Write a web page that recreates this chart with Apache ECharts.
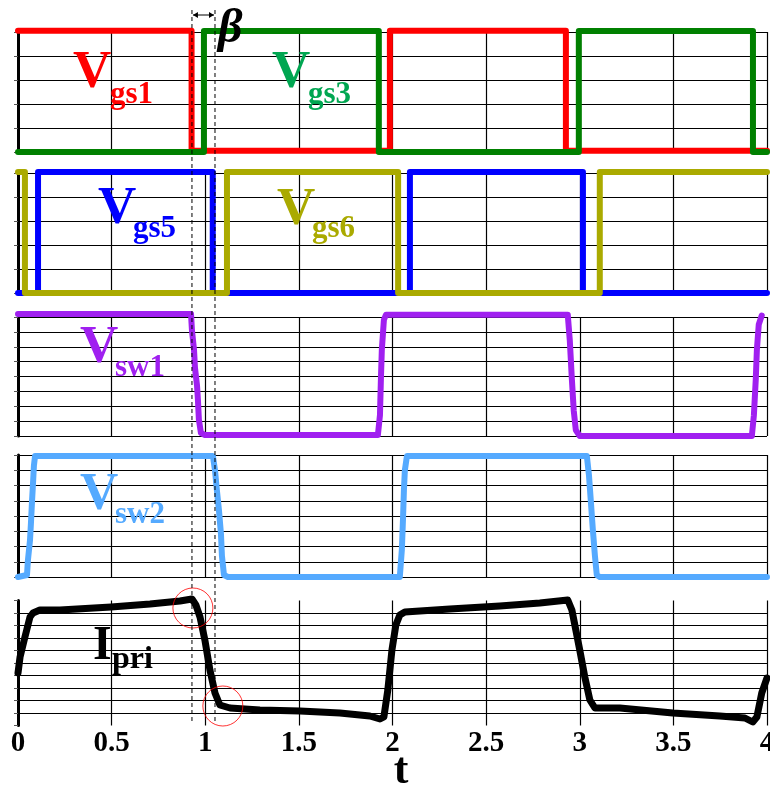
<!DOCTYPE html>
<html>
<head>
<meta charset="utf-8">
<style>
  html, body { margin: 0; padding: 0; background: #fff; }
  #main { width: 770px; height: 792px; }
</style>
<script src="https://cdn.jsdelivr.net/npm/echarts/dist/echarts.min.js"></script>
</head>
<body>
<div id="main"></div>
<script>
// time axis ticks
var xTicks = [0, 0.5, 1, 1.5, 2, 2.5, 3, 3.5, 4];

// gate signals (time, level)
var vgs1T = [0, 0.927, 0.927, 1.986, 1.986, 2.926, 2.926, 4];
var vgs1V = [5.05, 5.05, 0.05, 0.05, 5.05, 5.05, 0.05, 0.05];
var vgs3T = [0, 0.993, 0.993, 1.927, 1.927, 2.995, 2.995, 3.925, 3.925, 4];
var vgs3V = [0, 0, 5.04, 5.04, 0, 0, 5.04, 5.04, 0, 0];
var vgs5T = [0, 0.107, 0.107, 1.04, 1.04, 2.093, 2.093, 3.017, 3.017, 4];
var vgs5V = [0, 0, 5.04, 5.04, 0, 0, 5.04, 5.04, 0, 0];
var vgs6T = [0, 0.037, 0.037, 1.116, 1.116, 2.03, 2.03, 3.107, 3.107, 4];
var vgs6V = [5.04, 5.04, 0, 0, 5.04, 5.04, 0, 0, 5.04, 5.04];

// switch node voltages
var vsw1T = [0, 0.924, 0.929, 0.940, 0.945, 0.956, 0.961, 0.966, 0.977, 0.998,
             1.922, 1.933, 1.938, 1.943, 1.954, 1.965,
             2.936, 2.947, 2.958, 2.968, 2.979, 3.0,
             3.919, 3.930, 3.940, 3.946, 3.956, 3.972];
var vsw1V = [8.2, 8.2, 7.1, 5.8, 4.6, 3.4, 2.4, 1.1, 0.2, 0.07,
             0.07, 1.4, 3.8, 5.8, 7.8, 8.15,
             8.15, 6.4, 3.8, 1.7, 0.4, 0.0,
             0.0, 1.4, 3.8, 5.8, 7.5, 8.1];
var vsw2T = [0, 0.048, 0.053, 0.064, 0.069, 0.075, 0.080, 0.085, 0.091,
             1.041, 1.052, 1.062, 1.073, 1.084, 1.089, 1.10, 1.121,
             2.039, 2.050, 2.056, 2.061, 2.066, 2.077,
             3.038, 3.049, 3.059, 3.070, 3.081, 3.091, 3.107, 4];
var vsw2V = [0, 0.13, 1.1, 2.4, 3.5, 5.0, 6.1, 7.3, 7.93,
             7.93, 7.0, 5.7, 4.4, 2.8, 1.4, 0.13, 0,
             0, 1.8, 3.8, 5.7, 7.0, 7.93,
             7.93, 6.7, 5.0, 3.1, 1.4, 0.13, 0, 0];

// primary current
var ipriT = [0, 0.011, 0.037, 0.064, 0.080, 0.117, 0.224, 0.497, 0.705, 0.865,
             0.929, 0.950, 0.972, 0.998, 1.025, 1.052, 1.078, 1.132, 1.292, 1.506,
             1.719, 1.879, 1.933, 1.954, 1.975, 1.997, 2.018, 2.039, 2.066, 2.306,
             2.573, 2.787, 2.936, 2.958, 2.979, 3.0, 3.027, 3.054, 3.081, 3.214,
             3.497, 3.748, 3.882, 3.924, 3.946, 3.972, 4.0];
var ipriV = [3.2, 4.48, 6.08, 7.68, 8.0, 8.24, 8.24, 8.48, 8.72, 8.96,
             9.12, 8.64, 7.68, 5.84, 3.44, 1.6, 0.64, 0.4, 0.24, 0.16,
             0, -0.24, -0.48, -0.32, 1.84, 5.04, 7.04, 7.84, 8.08, 8.32,
             8.56, 8.8, 9.04, 8.24, 6.64, 5.04, 2.88, 1.04, 0.4, 0.4,
             0, -0.24, -0.4, -0.72, -0.32, 1.6, 2.8];

// highlighted corners on Ipri (circle centres)
var circleT = [0.934, 1.094];
var circleV = [8.4, 0.56];

// dead time beta boundaries
var betaT = [0.929, 1.052];

function pairs(t, v) {
  return t.map(function (x, i) { return [x, v[i]]; });
}

var serif = '"Liberation Serif", "Times New Roman", serif';
var panels = [
  { top: 32, height: 120, min: 0, max: 5 },
  { top: 173, height: 120, min: 0, max: 5 },
  { top: 317, height: 119, min: 0, max: 8 },
  { top: 455, height: 122, min: 0, max: 8 },
  { top: 600.5, height: 125, min: -1, max: 9 }
];

var grids = [], xAxes = [], yAxes = [];
panels.forEach(function (p, i) {
  grids.push({ left: 18, right: 3, top: p.top, height: p.height, outerBoundsMode: 'none', containLabel: false });
  xAxes.push({
    type: 'value', gridIndex: i, min: xTicks[0], max: xTicks[xTicks.length - 1], interval: 0.5,
    axisLine: { show: false, onZero: false },
    axisTick: { show: false },
    splitLine: { show: true, lineStyle: { color: '#000', width: 1.2 } },
    axisLabel: {
      show: i === panels.length - 1, margin: 4, color: '#000',
      fontFamily: serif, fontWeight: 'bold', fontSize: 29
    }
  });
  yAxes.push({
    type: 'value', gridIndex: i, min: p.min, max: p.max, interval: 1,
    axisLine: { show: true, onZero: false, lineStyle: { color: '#000', width: 3 } },
    axisTick: { show: true, length: 4, lineStyle: { color: '#555', width: 1 } },
    axisLabel: { show: false },
    splitLine: {
      show: true, showMinLine: i !== 4, showMaxLine: i !== 4,
      lineStyle: { color: '#000', width: 1.2 }
    }
  });
});

function trace(idx, t, v, color, w) {
  return {
    type: 'line', xAxisIndex: idx, yAxisIndex: idx, data: pairs(t, v),
    symbol: 'none', clip: false, animation: false,
    lineStyle: { color: color, width: w || 6, cap: 'round', join: 'round' }
  };
}

var series = [
  trace(0, vgs1T, vgs1V, '#ff0000'),
  trace(0, vgs3T, vgs3V, '#008000'),
  trace(1, vgs5T, vgs5V, '#0000ff'),
  trace(1, vgs6T, vgs6V, '#aaaa00'),
  trace(2, vsw1T, vsw1V, '#a020f0'),
  trace(3, vsw2T, vsw2V, '#55aaff'),
  trace(4, ipriT, ipriV, '#000000', 7),
  {
    type: 'scatter', xAxisIndex: 4, yAxisIndex: 4, data: pairs(circleT, circleV),
    symbol: 'circle', symbolSize: 40, clip: false, z: 5, animation: false,
    itemStyle: { color: 'rgba(0,0,0,0)', borderColor: '#ff0000', borderWidth: 1 }
  }
];

var myChart = echarts.init(document.getElementById('main'));
myChart.setOption({
  backgroundColor: '#fff',
  animation: false,
  grid: grids,
  xAxis: xAxes,
  yAxis: yAxes,
  series: series
});

// labels: big letter + subscript
function label(main, sub, x, y, sx, sy, color, size, subSize) {
  return [
    { type: 'text', z: 20, style: { x: x, y: y, text: main, fill: color,
      font: 'bold ' + size + 'px ' + serif, textVerticalAlign: 'middle' } },
    { type: 'text', z: 20, style: { x: sx, y: sy, text: sub, fill: color,
      font: 'bold ' + subSize + 'px ' + serif, textVerticalAlign: 'middle' } }
  ];
}

var g = [];
g = g.concat(label('V', 'gs1', 73, 73, 110, 95, '#ff0000', 53, 31));
g = g.concat(label('V', 'gs3', 272, 73, 308, 95, '#00a651', 53, 31));
g = g.concat(label('V', 'gs5', 98, 209, 133, 229, '#0000ff', 53, 31));
g = g.concat(label('V', 'gs6', 277, 210, 312, 229, '#aaaa00', 53, 31));
g = g.concat(label('V', 'sw1', 80, 348, 115, 368, '#a020f0', 53, 31));
g = g.concat(label('V', 'sw2', 80, 495, 115, 515, '#55aaff', 53, 31));
g = g.concat(label('I', 'pri', 93, 647, 112, 660, '#000000', 48, 32));

// dashed lines marking beta, from the axis scale
var bx = betaT.map(function (t) { return myChart.convertToPixel({ xAxisIndex: 0 }, t); });
bx.forEach(function (x) {
  g.push({ type: 'line', z: 15, shape: { x1: x, y1: 10, x2: x, y2: 722 },
    style: { stroke: '#000', lineWidth: 1, lineDash: [4, 3] } });
});
var ay = 15;
g.push({ type: 'line', z: 15, shape: { x1: bx[0] + 1, y1: ay, x2: bx[1] - 1, y2: ay },
  style: { stroke: '#000', lineWidth: 1 } });
g.push({ type: 'polygon', z: 15, shape: { points: [[bx[0] + 1, ay], [bx[0] + 6, ay - 3], [bx[0] + 6, ay + 3]] },
  style: { fill: '#000' } });
g.push({ type: 'polygon', z: 15, shape: { points: [[bx[1] - 1, ay], [bx[1] - 6, ay - 3], [bx[1] - 6, ay + 3]] },
  style: { fill: '#000' } });
g.push({ type: 'text', z: 20, style: { x: 218, y: 30, text: 'β', fill: '#000',
  font: 'italic bold 48px ' + serif, textVerticalAlign: 'middle' } });

// axis name
g.push({ type: 'text', z: 20, style: { x: 401, y: 772, text: 't', fill: '#000',
  font: 'bold 44px ' + serif, textAlign: 'center', textVerticalAlign: 'middle' } });

myChart.setOption({ graphic: g });
</script>
</body>
</html>
